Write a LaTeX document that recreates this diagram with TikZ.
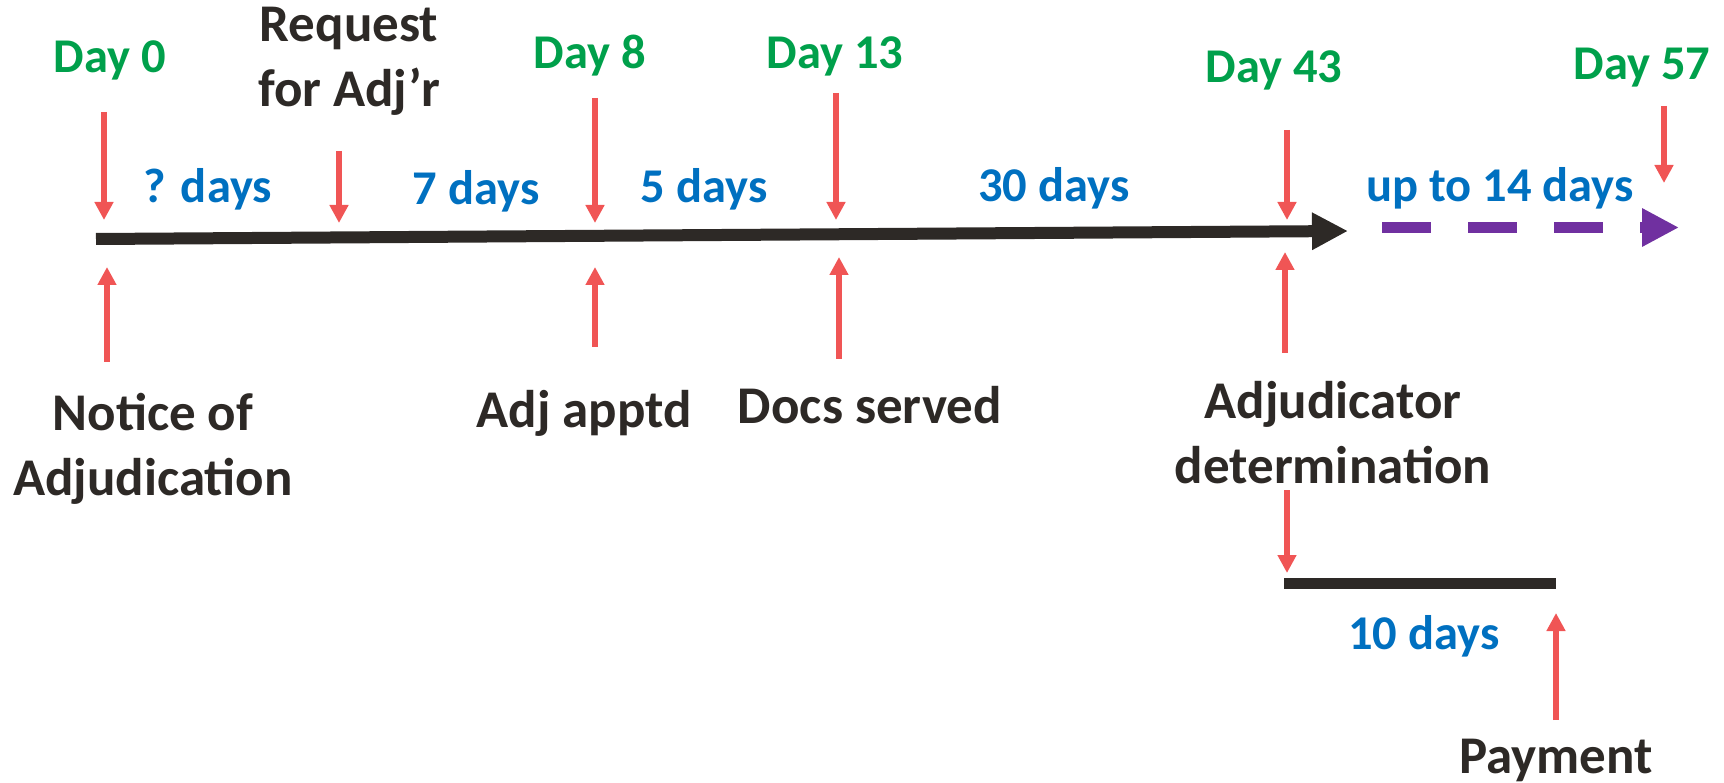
\documentclass[tikz,border=0pt]{standalone}
\usepackage{fontspec}
\setmainfont{Carlito}
\usetikzlibrary{arrows.meta}

\definecolor{daygreen}{RGB}{0,160,75}
\definecolor{spanblue}{RGB}{0,112,192}
\definecolor{markred}{RGB}{240,85,85}
\definecolor{inkblack}{RGB}{45,41,38}
\definecolor{extpurple}{RGB}{112,48,160}

\tikzset{
  daylbl/.style={anchor=base, inner sep=0pt, text=daygreen, font=\fontsize{48.5pt}{58pt}\selectfont\bfseries},
  spanlbl/.style={anchor=base, inner sep=0pt, text=spanblue, font=\fontsize{48.5pt}{58pt}\selectfont\bfseries},
  eventlbl/.style={anchor=base, inner sep=0pt, align=center, text=inkblack, font=\fontsize{53pt}{65pt}\selectfont\bfseries},
  markarr/.style={markred, line width=6pt, -{Triangle[length=18pt,width=18pt]}}
}

\begin{document}
\begin{tikzpicture}[x=1pt, y=-1pt]
    \useasboundingbox (0,0) rectangle (1724,783);
    % Main time line
    \coordinate (t0) at (96,239);
    \coordinate (t1) at (1348,231);
    \draw[inkblack, line width=12pt, -{Triangle[length=36pt,width=35pt]}] (t0) -- (t1);
    % Extension (dashed)
    \coordinate (e0) at (1382,227.5);
    \coordinate (e1) at (1679,227.5);
    \draw[extpurple, line width=11pt, dash pattern=on 49pt off 37pt, -{Triangle[length=37pt,width=36pt]}] (e0) -- (e1);
    % Payment period
    \coordinate (p0) at (1284,583.5);
    \coordinate (p1) at (1556,583.5);
    \draw[inkblack, line width=11pt] (p0) -- (p1);
    % Day labels
    \node[daylbl] (day0) at (110,73) {Day 0};
    \node[daylbl] (day8) at (590,69) {Day 8};
    \node[daylbl] (day13) at (835,69) {Day 13};
    \node[daylbl] (day43) at (1274,83) {Day 43};
    \node[daylbl] (day57) at (1642,80) {Day 57};
    % Periods
    \node[spanlbl] (span0) at (208,203) {? days};
    \node[spanlbl] (span7) at (476,205) {7 days};
    \node[spanlbl] (span5) at (704,203) {5 days};
    \node[spanlbl] (span30) at (1054,202) {30 days};
    \node[spanlbl] (span14) at (1500,202) {up to 14 days};
    \node[spanlbl] (span10) at (1424,649) {10 days};
    % Events (base = last line)
    \node[eventlbl] (request) at (349,107) {Request\\for Adj’r};
    \node[eventlbl] (notice) at (153,495) {Notice of\\Adjudication};
    \node[eventlbl] (apptd) at (584,428) {Adj apptd};
    \node[eventlbl] (docs) at (870,423) {Docs served};
    \node[eventlbl] (determ) at (1333,483) {Adjudicator\\determination};
    \node[eventlbl] (payment) at (1556,773) {Payment};
    % Arrows from above
    \coordinate (a0s) at (104,112);  \coordinate (a0e) at (104,220);
    \coordinate (ars) at (339,151);  \coordinate (are) at (339,223);
    \coordinate (a8s) at (595,98);   \coordinate (a8e) at (595,223);
    \coordinate (a13s) at (836,93);  \coordinate (a13e) at (836,220);
    \coordinate (a43s) at (1287,130); \coordinate (a43e) at (1287,220);
    \coordinate (a57s) at (1664,106); \coordinate (a57e) at (1664,183);
    \draw[markarr] (a0s) -- (a0e);
    \draw[markarr] (ars) -- (are);
    \draw[markarr] (a8s) -- (a8e);
    \draw[markarr] (a13s) -- (a13e);
    \draw[markarr] (a43s) -- (a43e);
    \draw[markarr] (a57s) -- (a57e);
    % Arrows from below
    \coordinate (bns) at (107,362);  \coordinate (bne) at (107,267);
    \coordinate (bas) at (595,347);  \coordinate (bae) at (595,267);
    \coordinate (bds) at (839,359);  \coordinate (bde) at (839,257);
    \coordinate (bjs) at (1285,353); \coordinate (bje) at (1285,252);
    \draw[markarr] (bns) -- (bne);
    \draw[markarr] (bas) -- (bae);
    \draw[markarr] (bds) -- (bde);
    \draw[markarr] (bjs) -- (bje);
    % Determination to payment
    \coordinate (cds) at (1287,490); \coordinate (cde) at (1287,573);
    \coordinate (cps) at (1556,720); \coordinate (cpe) at (1556,613);
    \draw[markarr] (cds) -- (cde);
    \draw[markarr] (cps) -- (cpe);
\end{tikzpicture}
\end{document}
